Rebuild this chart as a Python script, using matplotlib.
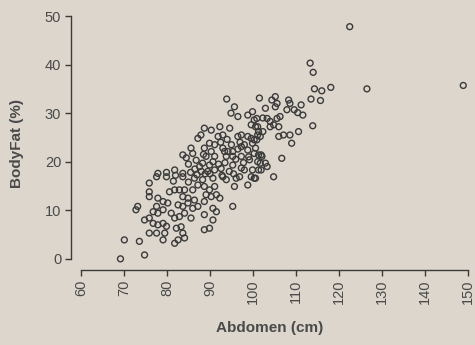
import matplotlib
matplotlib.use("Agg")
import matplotlib.pyplot as plt

# ---- data (Abdomen cm, BodyFat %) ----
abdomen_a = [75.9, 75.9, 75.9, 73.2, 72.8, 74.8, 75.9, 75.9, 70.1, 73.6, 74.8, 69.2]
bodyfat_a = [15.6, 13.8, 12.8, 10.8, 10.1, 8.0, 8.4, 5.3, 3.9, 3.6, 0.8, 0.0]

abdomen_b = [77.6, 79.9, 83.7, 86.4, 88.3, 87.2, 88.7, 86.0, 84.1, 82.9, 81.8, 80.6,
             77.9, 79.1, 80.2, 77.6, 76.8, 77.9, 79.1, 81.0, 82.6, 83.7, 84.9, 86.0,
             87.2, 88.7, 89.1, 86.4, 84.9, 83.7, 81.8, 82.9, 84.1, 85.6, 88.7, 76.8,
             77.9, 79.1, 79.9, 77.6, 79.5, 79.1, 82.2, 83.3, 83.7, 84.1, 81.8, 82.6, 88.7]
bodyfat_b = [16.9, 16.9, 16.9, 16.6, 16.3, 15.2, 14.9, 14.2, 14.2, 14.2, 14.2, 13.8,
             12.5, 11.8, 11.5, 10.8, 9.7, 9.4, 10.1, 9.4, 11.1, 10.8, 11.5, 10.4,
             10.8, 11.8, 13.2, 12.1, 12.5, 12.8, 8.4, 8.7, 9.4, 8.4, 9.1, 7.3,
             7.0, 7.3, 6.7, 5.3, 5.3, 3.9, 6.3, 6.6, 5.3, 4.3, 3.2, 3.9, 6.0]

abdomen_c = [90.7, 93.0, 93.8, 96.1, 96.9, 95.7, 98.8, 100.3, 99.6, 89.9, 91.1, 91.5,
             92.3, 90.3, 90.7, 91.5, 90.7, 95.3, 89.9]
bodyfat_c = [16.6, 16.9, 16.3, 16.6, 16.9, 14.9, 15.2, 16.6, 16.9, 14.2, 14.9, 13.2,
             12.5, 12.8, 10.4, 9.7, 8.0, 10.8, 6.3]

abdomen_d = [88.7, 87.9, 87.2, 88.7, 85.6, 86.0, 83.7, 89.1, 88.3, 87.6, 81.8, 79.9,
             77.9, 83.7]
bodyfat_d = [26.9, 25.5, 24.8, 22.8, 22.8, 21.7, 21.4, 21.1, 19.7, 19.0, 18.3, 17.8,
             17.6, 17.6]

abdomen_e = [93.9, 101.5, 95.7, 94.9, 96.5, 98.8, 99.9, 100.3, 102.3, 99.6, 101.1, 102.3,
             92.3, 94.6, 90.3, 93.0, 91.9, 97.3, 96.5, 98.8, 99.6, 100.3, 101.1, 99.9,
             97.3, 91.1, 89.9, 93.0, 93.4, 94.2, 95.3, 93.8, 95.3, 90.3, 91.1, 97.3,
             98.8, 100.3, 101.9, 99.2, 101.1, 95.3, 92.6, 97.3, 98.0, 99.9, 101.9, 90.7,
             89.9, 91.1]
bodyfat_e = [32.9, 33.1, 31.3, 30.0, 29.3, 29.6, 30.3, 28.6, 29.0, 27.6, 27.2, 26.2,
             27.2, 26.9, 26.5, 25.5, 25.2, 25.5, 25.2, 25.2, 24.8, 24.5, 25.5, 23.8,
             23.1, 23.5, 23.8, 22.8, 22.1, 22.1, 22.1, 21.1, 21.1, 22.1, 21.1, 21.1,
             22.4, 21.7, 21.4, 20.4, 20.0, 19.3, 18.6, 18.7, 18.3, 18.3, 18.3, 20.0,
             19.3, 18.3]

abdomen_f = [102.9, 105.2, 104.4, 105.6, 105.2, 108.3, 108.6, 107.9, 103.3, 104.0,
             105.6, 106.3, 104.8, 106.0, 104.0, 100.9, 100.6, 101.3, 100.9, 101.7, 106.0,
             107.1, 108.6, 109.0, 100.6, 101.3, 102.1, 101.7, 102.9, 103.3, 101.3, 106.7,
             104.8, 100.6]
bodyfat_f = [31.0, 33.4, 32.7, 32.0, 31.3, 32.7, 32.0, 30.7, 28.9, 28.3,
             28.9, 29.3, 27.6, 27.2, 27.2, 28.9, 27.2, 26.2, 24.5, 25.2, 25.2,
             25.5, 25.5, 23.8, 22.8, 21.4, 21.1, 19.7, 19.7, 19.0, 18.3, 20.7,
             16.9, 16.6]

abdomen_g = [122.5, 126.5, 148.9, 113.3, 114.0, 118.1, 114.3, 116.0, 113.5, 115.7,
             113.9, 111.2, 110.6, 111.6, 110.4, 109.6]
bodyfat_g = [47.8, 35.0, 35.7, 40.3, 38.4, 35.3, 35.0, 34.6, 32.9, 32.6,
             27.4, 31.7, 26.2, 29.6, 30.1, 30.7]

abdomen_h = [88.0, 86.5, 85.0, 86.8, 84.5, 88.9, 87.0, 85.5, 89.5, 88.5, 81.5, 85.0,
             82.0, 92.0, 93.5, 94.5, 96.0, 97.8, 95.0, 96.5, 92.5, 94.0, 98.0, 90.0,
             92.8, 95.5, 99.0, 97.0]
bodyfat_h = [18.0, 18.5, 19.5, 20.3, 20.8, 17.5, 17.3, 17.8, 18.0, 21.5, 16.0, 15.8,
             17.2, 19.5, 19.8, 18.0, 20.5, 19.8, 23.5, 22.6, 24.0, 24.6, 23.5, 17.5,
             17.2, 17.5, 21.0, 24.0]

abdomen = abdomen_a + abdomen_b + abdomen_c + abdomen_d + abdomen_e + abdomen_f + abdomen_g + abdomen_h
bodyfat = bodyfat_a + bodyfat_b + bodyfat_c + bodyfat_d + bodyfat_e + bodyfat_f + bodyfat_g + bodyfat_h

x_ticks = [60, 70, 80, 90, 100, 110, 120, 130, 140, 150]
y_ticks = [0, 10, 20, 30, 40, 50]

BG = "#dcd6cc"
INK = "#3a3a3a"
TXT = "#4a4a4a"

plt.rcParams['font.family'] = ['Liberation Sans', 'DejaVu Sans']

fig = plt.figure(figsize=(4.75, 3.45), dpi=100, facecolor=BG)
ax = fig.add_axes([71 / 475, (345 - 270) / 345, (468 - 71) / 475, (270 - 16) / 345])
ax.set_facecolor(BG)

ax.scatter(abdomen, bodyfat, s=18, facecolors='none', edgecolors=INK, linewidths=1.0,
           clip_on=False, zorder=3)

ax.set_xlim(57.7, 150)
ax.set_ylim(-2.3, 50)

for side in ("top", "right"):
    ax.spines[side].set_visible(False)
ax.spines["left"].set_bounds(0, 50)
ax.spines["bottom"].set_bounds(60, 150)
for side in ("left", "bottom"):
    ax.spines[side].set_color(INK)
    ax.spines[side].set_linewidth(1.0)

ax.set_xticks(x_ticks)
ax.set_yticks(y_ticks)
ax.set_xticklabels([str(v) for v in x_ticks], rotation=90)
ax.tick_params(axis='both', direction='out', length=4, width=1.0, color=INK,
               labelcolor=TXT, labelsize=10.5, pad=3)

ax.set_xlabel("Abdomen (cm)", fontsize=11, fontweight='bold', color=TXT, labelpad=12)
ax.set_ylabel("BodyFat (%)", fontsize=11, fontweight='bold', color=TXT, labelpad=15)

fig.savefig("out.png", dpi=100, facecolor=BG)
